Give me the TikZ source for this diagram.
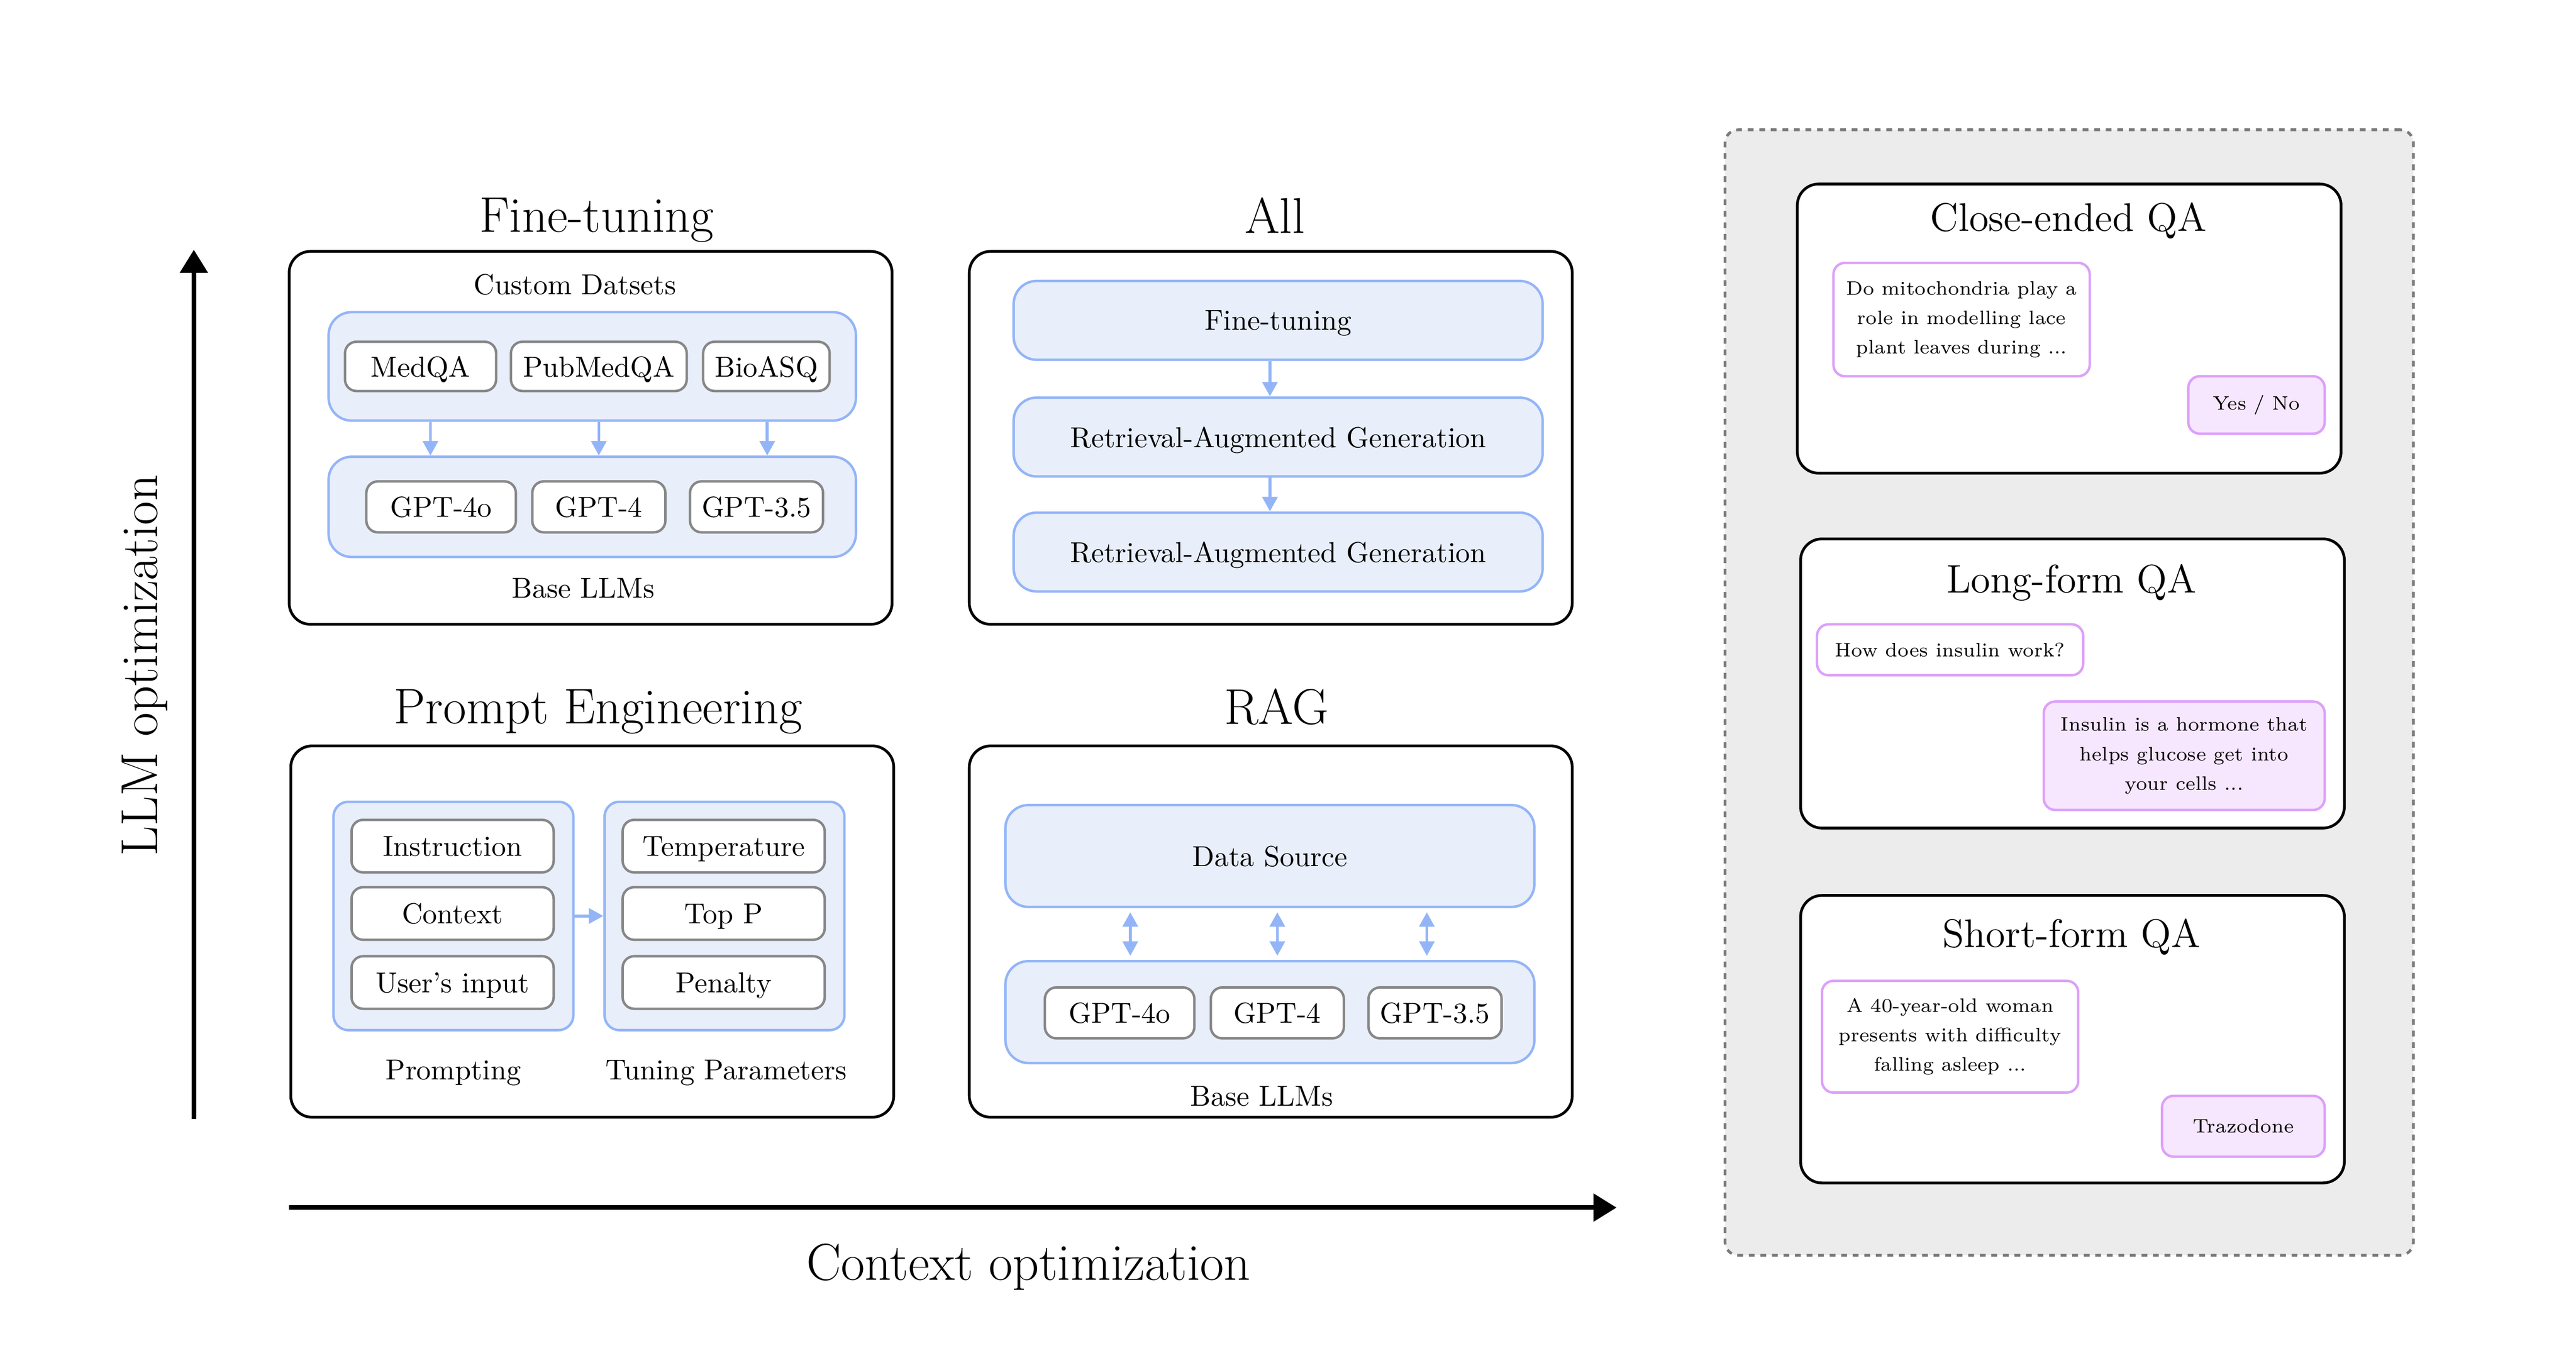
\documentclass[tikz,border=0pt]{standalone}
\usetikzlibrary{arrows.meta}

\definecolor{blueline}{HTML}{93B5F8}
\definecolor{bluefill}{HTML}{E8EEFA}
\definecolor{greyline}{HTML}{878787}
\definecolor{purpleline}{HTML}{DDA0FA}
\definecolor{purplefill}{HTML}{F6E6FE}
\definecolor{panelfill}{HTML}{ECECEC}
\definecolor{dashline}{HTML}{7A7A7A}

\tikzset{
  sz/.style 2 args={minimum width=#1*0.2mm, minimum height=#2*0.2mm, inner sep=0pt},
  lbl/.style={text depth=0pt},
  frame/.style={draw=black, fill=white, line width=0.95pt, rounded corners=2.6mm},
  group/.style={lbl, draw=blueline, fill=bluefill, line width=0.85pt, rounded corners=2.8mm},
  item/.style={lbl, draw=greyline, fill=white, line width=0.85pt, rounded corners=1.4mm},
  bubble/.style={draw=purpleline, fill=white, line width=0.85pt, rounded corners=1.4mm,
    align=center, font=\fontsize{6.75}{10.2}\selectfont},
  reply/.style={bubble, fill=purplefill},
  title/.style={lbl, font=\fontsize{17.4}{20}\selectfont},
  axislabel/.style={lbl, font=\fontsize{18}{21}\selectfont},
  qatitle/.style={lbl, font=\fontsize{13.8}{16}\selectfont},
  flow/.style={draw=blueline, line width=1pt, -{Triangle[length=5pt,width=5.2pt]}},
  dflow/.style={draw=blueline, line width=1pt,
    {Triangle[length=5pt,width=5.2pt]}-{Triangle[length=5pt,width=5.2pt]},
    shorten <=0.5mm, shorten >=0.5mm},
  axis/.style={line width=1.6pt, -{Triangle[length=8pt,width=9.4pt]}}
}

\begin{document}
\begin{tikzpicture}[x=0.2mm, y=-0.2mm]
  \useasboundingbox (0,0) rectangle (1568,823.4);

  % axes
  \coordinate (yo) at (118,681); \coordinate (yt) at (118,152);
  \coordinate (xo) at (176,735); \coordinate (xt) at (984,735);
  \draw[axis] (yo) -- (yt); \draw[axis] (xo) -- (xt);
  \node[axislabel, rotate=90] (ylab) at (85,405) {LLM optimization};
  \node[axislabel] (xlab) at (626,768) {Context optimization};

  % fine-tuning
  \node[title] (ftT) at (363,131) {Fine-tuning};
  \node[frame, sz={367}{227}] (ft) at (359.5,266.5) {};
  \node[lbl] (cdsL) at (350,173) {Custom Datsets};
  \node[group, sz={321}{66}] (cds) at (360.5,223) {};
  \node[item, sz={92}{30}] (medqa) at (256,223) {MedQA};
  \node[item, sz={107}{30}] (pubmedqa) at (364.5,223) {PubMedQA};
  \node[item, sz={77}{30}] (bioasq) at (466.5,223) {BioASQ};
  \node[group, sz={321}{61}] (ftbase) at (360.5,308.5) {};
  \node[item, sz={91}{31}] (fa) at (268.5,308.5) {GPT-4o};
  \node[item, sz={81}{31}] (fb) at (364.5,308.5) {GPT-4};
  \node[item, sz={81}{31}] (fc) at (460.5,308.5) {GPT-3.5};
  \node[lbl] (ftbaseL) at (355,358) {Base LLMs};
  \draw[flow] ([xshift=-20.5mm]cds.south -| pubmedqa) -- ([xshift=-20.5mm]ftbase.north -| pubmedqa);
  \draw[flow] (cds.south -| pubmedqa) -- (ftbase.north -| pubmedqa);
  \draw[flow] ([xshift=20.5mm]cds.south -| pubmedqa) -- ([xshift=20.5mm]ftbase.north -| pubmedqa);

  % all
  \node[title] (allT) at (776,131) {All};
  \node[frame, sz={367}{227}] (all) at (773.5,266.5) {};
  \node[group, sz={322}{48}] (s1) at (778,195) {Fine-tuning};
  \node[group, sz={322}{48}] (s2) at (778,266) {Retrieval-Augmented Generation};
  \node[group, sz={322}{48}] (s3) at (778,336) {Retrieval-Augmented Generation};
  \draw[flow] ([xshift=-1mm]s1.south) -- ([xshift=-1mm]s2.north);
  \draw[flow] ([xshift=-1mm]s2.south) -- ([xshift=-1mm]s3.north);

  % prompt engineering
  \node[title] (peT) at (364,430) {Prompt Engineering};
  \node[frame, sz={367}{226}] (pe) at (360.5,567) {};
  \node[group, sz={146}{139}, rounded corners=1.8mm] (promptC) at (276,557.5) {};
  \node[item, sz={123}{32}] (instr) at (275.5,515) {Instruction};
  \node[item, sz={123}{32}] (ctx) at (275.5,556) {Context};
  \node[item, sz={123}{32}] (uin) at (275.5,598) {User’s input};
  \node[group, sz={146}{139}, rounded corners=1.8mm] (tuneC) at (441,557.5) {};
  \node[item, sz={123}{32}] (temp) at (440.5,515) {Temperature};
  \node[item, sz={123}{32}] (topp) at (440.5,556) {Top P};
  \node[item, sz={123}{32}] (pen) at (440.5,598) {Penalty};
  \draw[flow] (promptC) -- (tuneC);
  \node[lbl] (promptL) at (276,651) {Prompting};
  \node[lbl] (tuneL) at (442,651) {Tuning Parameters};

  % rag
  \node[title] (ragT) at (777,430) {RAG};
  \node[frame, sz={367}{226}] (rag) at (773.5,567) {};
  \node[group, sz={322}{62}] (ds) at (773,521) {Data Source};
  \node[group, sz={322}{62}] (rbase) at (773,616) {};
  \node[item, sz={91}{31}] (ra) at (681.5,616.5) {GPT-4o};
  \node[item, sz={81}{31}] (rb) at (777.5,616.5) {GPT-4};
  \node[item, sz={81}{31}] (rc) at (873.5,616.5) {GPT-3.5};
  \node[lbl] (rbaseL) at (768,667) {Base LLMs};
  \draw[dflow] ([xshift=-17.9mm]ds.south -| rb) -- ([xshift=-17.9mm]rbase.north -| rb);
  \draw[dflow] (ds.south -| rb) -- (rbase.north -| rb);
  \draw[dflow] ([xshift=18.2mm]ds.south -| rb) -- ([xshift=18.2mm]rbase.north -| rb);

  % qa panel
  \node[draw=dashline, fill=panelfill, line width=0.95pt, dash pattern=on 2pt off 2pt,
    rounded corners=1.6mm, sz={419}{685}] (panel) at (1259.5,421.5) {};

  \node[frame, sz={331}{176}] (closed) at (1259.5,200) {};
  \node[qatitle] (closedT) at (1259,132) {Close-ended QA};
  \node[bubble, sz={156}{69}] (q1) at (1194,194.5) {Do mitochondria play a\\role in modelling lace\\plant leaves during ...};
  \node[reply, sz={83}{35}] (a1) at (1373.5,246.5) {Yes / No};

  \node[frame, sz={331}{176}] (long) at (1261.5,416) {};
  \node[qatitle] (longT) at (1261,352) {Long-form QA};
  \node[bubble, sz={162}{31}] (q2) at (1187,395.5) {How does insulin work?};
  \node[reply, sz={171}{66}] (a2) at (1329.5,460) {Insulin is a hormone that\\helps glucose get into\\your cells ...};

  \node[frame, sz={331}{175}] (short) at (1261.5,632.5) {};
  \node[qatitle] (shortT) at (1261,568) {Short-form QA};
  \node[bubble, sz={156}{68}] (q3) at (1187,631) {A 40-year-old woman\\presents with difficulty\\falling asleep ...};
  \node[reply, sz={99}{37}] (a3) at (1365.5,685.5) {Trazodone};
\end{tikzpicture}
\end{document}
